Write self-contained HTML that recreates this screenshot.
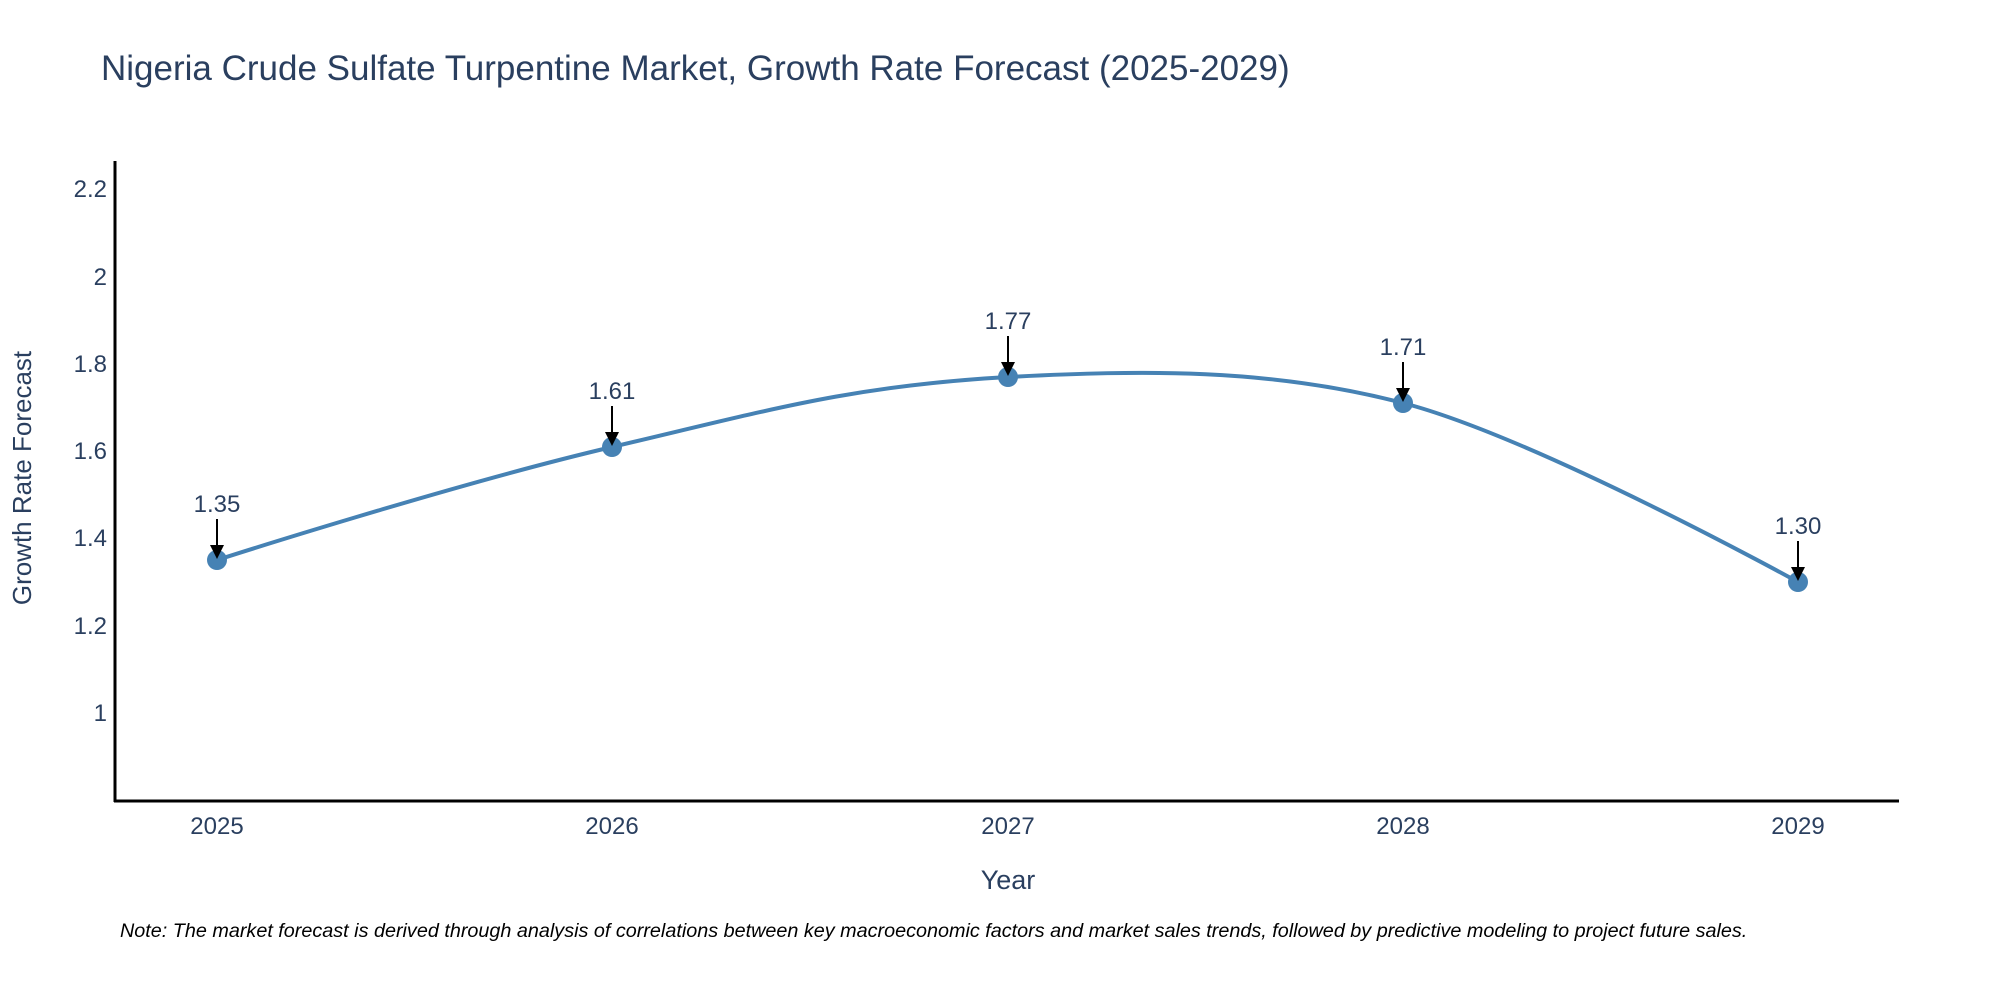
<!DOCTYPE html>
<html><head><meta charset="utf-8"><style>
body{margin:0;background:#fff;}
svg{display:block;font-family:"Liberation Sans",sans-serif;}
</style></head><body>
<svg width="2000" height="1000" viewBox="0 0 2000 1000" xmlns="http://www.w3.org/2000/svg">
<rect width="2000" height="1000" fill="#fff"/>
<text x="101" y="80" font-size="35" fill="#2a3f5f">Nigeria Crude Sulfate Turpentine Market, Growth Rate Forecast (2025-2029)</text>
<g font-size="24" fill="#2a3f5f" text-anchor="end">
<text x="107" y="197">2.2</text>
<text x="107" y="285">2</text>
<text x="107" y="372">1.8</text>
<text x="107" y="459">1.6</text>
<text x="107" y="546">1.4</text>
<text x="107" y="634">1.2</text>
<text x="107" y="721">1</text>
</g>
<g font-size="24" fill="#2a3f5f" text-anchor="middle">
<text x="217" y="834">2025</text>
<text x="612" y="834">2026</text>
<text x="1008" y="834">2027</text>
<text x="1403" y="834">2028</text>
<text x="1798" y="834">2029</text>
</g>
<text x="1008" y="889" font-size="27" fill="#2a3f5f" text-anchor="middle">Year</text>
<text transform="translate(31,478) rotate(-90)" font-size="26" fill="#2a3f5f" text-anchor="middle">Growth Rate Forecast</text>
<line x1="115" y1="161" x2="115" y2="802" stroke="#000" stroke-width="3"/>
<line x1="114" y1="801" x2="1899" y2="801" stroke="#000" stroke-width="3"/>
<path d="M217,560 C217,560 454,484 612,447 C770,410 850,386 1008,377 C1142,370 1269,368 1403,403 C1537,438 1798,582 1798,582" fill="none" stroke="#4682b4" stroke-width="4"/>
<g fill="#4682b4">
<circle cx="217" cy="560" r="10"/><circle cx="612" cy="447" r="10"/><circle cx="1008" cy="377" r="10"/><circle cx="1403" cy="403" r="10"/><circle cx="1798" cy="582" r="10"/>
</g>
<g stroke="#000" stroke-width="2">
<line x1="217" y1="519" x2="217" y2="545"/><line x1="612" y1="406" x2="612" y2="432"/><line x1="1008" y1="336" x2="1008" y2="362"/><line x1="1403" y1="362" x2="1403" y2="388"/><line x1="1798" y1="541" x2="1798" y2="567"/>
</g>
<g fill="#000">
<path d="M210,545 L224,545 L217,559Z"/><path d="M605,432 L619,432 L612,446Z"/><path d="M1001,362 L1015,362 L1008,376Z"/><path d="M1396,388 L1410,388 L1403,402Z"/><path d="M1791,567 L1805,567 L1798,581Z"/>
</g>
<g font-size="24" fill="#2a3f5f" text-anchor="middle">
<text x="217" y="512">1.35</text>
<text x="612" y="399">1.61</text>
<text x="1008" y="329">1.77</text>
<text x="1403" y="355">1.71</text>
<text x="1798" y="534">1.30</text>
</g>
<text x="120" y="937" font-size="19.8" font-style="italic" fill="#000">Note: The market forecast is derived through analysis of correlations between key macroeconomic factors and market sales trends, followed by predictive modeling to project future sales.</text>
</svg>
</body></html>
